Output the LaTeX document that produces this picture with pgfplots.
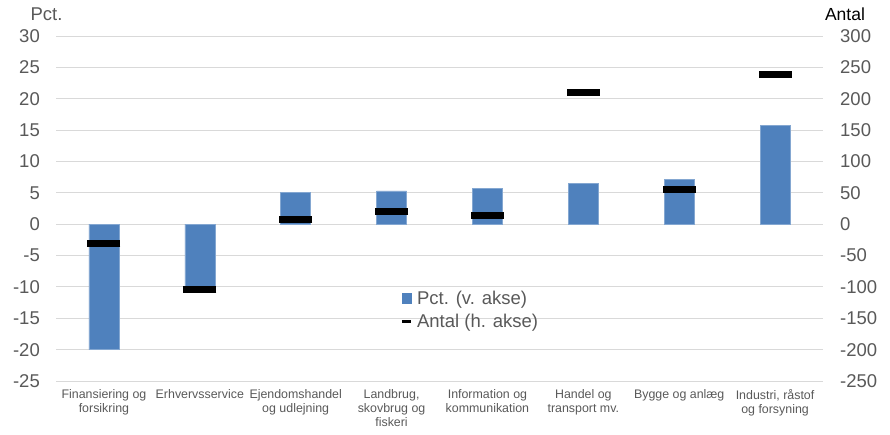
\documentclass[border=0pt]{standalone}
\usepackage{fontspec}
\setmainfont{Liberation Sans}
\usepackage{pgfplots}
\pgfplotsset{compat=1.18}
\definecolor{barblue}{HTML}{4F81BD}
\definecolor{tickgray}{HTML}{595959}
\definecolor{gridgray}{HTML}{D9D9D9}

\begin{document}
\begin{tikzpicture}
\pgfplotsset{
  common/.style={
    scale only axis, width=767pt, height=345pt,
    xmin=-0.5, xmax=7.5,
    axis line style={draw=none},
    major tick length=0pt,
    /pgf/number format/assume math mode=true,
    tick label style={font=\fontsize{18.5}{20}\selectfont, text=tickgray, inner sep=0pt},
  }
}
\begin{axis}[common, name=ax,
  ymin=-25, ymax=30, ytick={-25,-20,...,30},
  ymajorgrids, grid style={gridgray, line width=0.9pt},
  yticklabel shift=16pt,
  xtick={0,...,7},
  xticklabels={{Finansiering og\\forsikring},{Erhvervsservice},{Ejendomshandel\\og udlejning},{Landbrug,\\skovbrug og\\fiskeri},{Information og\\kommunikation},{Handel og\\transport mv.},{Bygge og anlæg},{Industri, råstof\\og forsyning}},
  xticklabel style={font=\fontsize{12.4}{14.3}\selectfont, align=center, anchor=north, yshift=-8pt},
]
\addplot[ybar, bar width=30pt, fill=barblue, draw=barblue!70!white, line width=0.5pt]
  coordinates {(0,-20.0) (1,-10.0) (2,5.1) (3,5.3) (4,5.7) (5,6.5) (6,7.1) (7,15.8)};
\end{axis}
\begin{axis}[common,
  ymin=-250, ymax=300, ytick={-250,-200,...,300},
  axis y line*=right, axis x line=none,
  yticklabel style={anchor=west},
  yticklabel shift=17pt,
  xtick=\empty,
  legend style={at={(0.449,0.206)}, anchor=west, draw=none, fill=none,
    font=\fontsize{18.5}{20}\selectfont, text=tickgray, row sep=4pt,
    column sep=3pt, inner sep=0pt},
  legend cell align=left,
]
\addlegendimage{legend image code/.code={\fill[barblue] (0pt,-5pt) rectangle (9pt,5pt);}}
\addlegendentry{Pct. (v. akse)}
\addplot[only marks, mark=-, mark size=16.5pt, mark options={line width=7pt, black},
  legend image code/.code={\draw[black, line width=2.5pt] (0pt,0pt) -- (9pt,0pt);}]
  coordinates {(0,-31) (1,-104) (2,8) (3,20) (4,14) (5,210) (6,55) (7,239)};
\addlegendentry{Antal (h. akse)}
\end{axis}
\node[font=\fontsize{18.5}{20}\selectfont, text=tickgray] at ([xshift=-9.5pt, yshift=22pt]ax.north west) {Pct.};
\node[font=\fontsize{17.5}{20}\selectfont, text=black] at ([xshift=789pt, yshift=22pt]ax.north west) {Antal};
\path[use as bounding box] (-56pt,-53pt) rectangle (834pt,381pt);
\end{tikzpicture}
\end{document}
